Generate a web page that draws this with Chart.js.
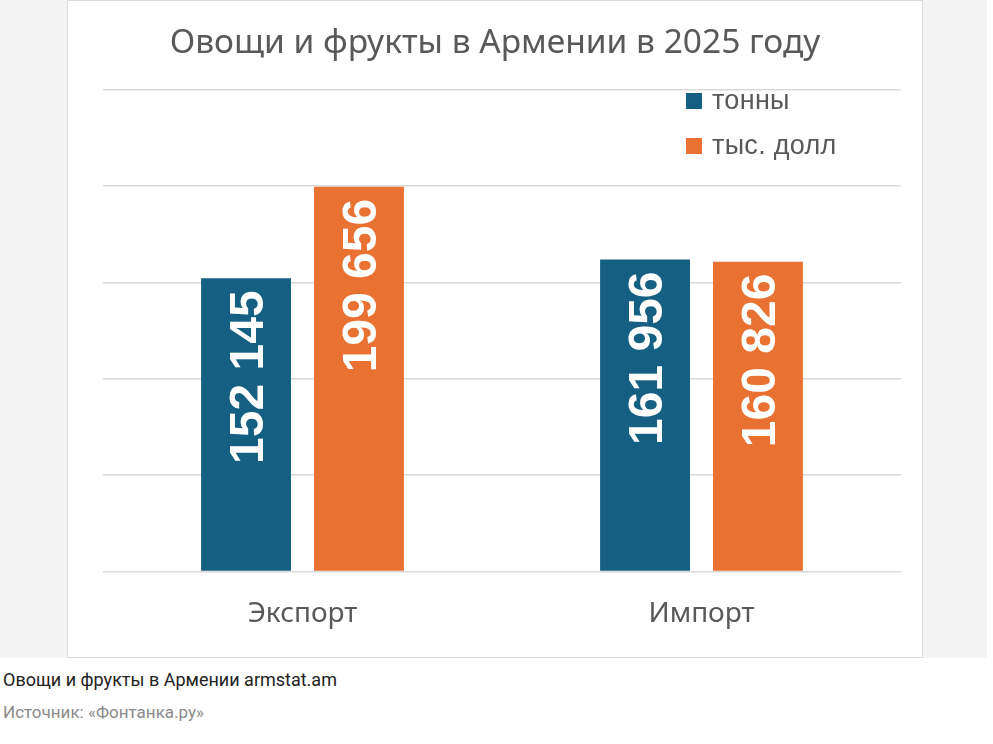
<!DOCTYPE html>
<html lang="ru">
<head>
<meta charset="utf-8">
<title>Овощи и фрукты в Армении в 2025 году</title>
<script src="https://cdn.jsdelivr.net/npm/chart.js@4.4.1/dist/chart.umd.min.js"></script>
<style>
  body { margin: 0; background: #fff; font-family: Roboto, sans-serif; }
  .wrap { position: relative; width: 987px; height: 658px; background: #f4f4f4; }
  .box {
    position: absolute; left: 67px; top: 0; width: 856px; height: 658px;
    box-sizing: border-box; background: #fff; border: 1px solid #dadada;
  }
  .chart-holder { position: absolute; left: 0; top: 0; width: 854px; height: 656px; }
  .legend { position: absolute; left: 618px; top: 77px; font-family: "Liberation Sans", Arial, sans-serif; font-size: 27px; color: #595959; letter-spacing: 0.3px; }
  .legend div { height: 45px; display: flex; align-items: center; }
  .legend span.sw { display: inline-block; width: 16px; height: 16px; margin-right: 10px; }
  .caption { position: absolute; left: 3px; top: 669px; font-size: 18px; color: #222; }
  .source { position: absolute; left: 3px; top: 702px; font-size: 17px; color: #8a8a8a; }
</style>
</head>
<body>
<div class="wrap">
  <div class="box">
    <div class="chart-holder"><canvas id="chart"></canvas></div>
    <div class="legend" id="legend"></div>
  </div>
</div>
<div class="caption">Овощи и фрукты в Армении armstat.am</div>
<div class="source">Источник: «Фонтанка.ру»</div>

<script>
// Data
const categories = ['Экспорт', 'Импорт'];
const tonnes = [152145, 161956];
const thousandUsd = [199656, 160826];
const seriesNames = ['тонны', 'тыс. долл'];
const seriesColors = ['#156082', '#E97132'];

const yMax = 250000;
const yStep = 50000;

function formatNumber(v) {
  return String(v).replace(/\B(?=(\d{3})+(?!\d))/g, ' ');
}

// White rotated labels inside the top of each bar
const barLabels = {
  id: 'barLabels',
  afterDatasetsDraw(chart) {
    const ctx = chart.ctx;
    const fontSize = 48;
    ctx.save();
    ctx.fillStyle = '#ffffff';
    ctx.font = 'bold ' + fontSize + 'px "Liberation Sans", Arial, sans-serif';
    ctx.textAlign = 'right';
    ctx.textBaseline = 'alphabetic';
    chart.data.datasets.forEach((ds, i) => {
      chart.getDatasetMeta(i).data.forEach((bar, j) => {
        ctx.save();
        ctx.translate(bar.x, bar.y + 12);
        ctx.rotate(-Math.PI / 2);
        ctx.fillText(formatNumber(ds.data[j]), 0, fontSize * 0.716 / 2);
        ctx.restore();
      });
    });
    ctx.restore();
  }
};

const chart = new Chart(document.getElementById('chart'), {
  type: 'bar',
  data: {
    labels: categories,
    datasets: [
      { label: seriesNames[0], data: tonnes, backgroundColor: seriesColors[0] },
      { label: seriesNames[1], data: thousandUsd, backgroundColor: seriesColors[1] }
    ]
  },
  options: {
    responsive: true,
    maintainAspectRatio: false,
    animation: false,
    devicePixelRatio: 1,
    categoryPercentage: 0.566,
    barPercentage: 0.796,
    layout: { padding: { left: 0, right: 0, top: 0, bottom: 8 } },
    plugins: {
      legend: { display: false },
      tooltip: { enabled: false },
      title: {
        display: true,
        text: 'Овощи и фрукты в Армении в 2025 году',
        color: '#595959',
        font: { family: '"Noto Sans", sans-serif', size: 33.5, weight: 'normal', lineHeight: 1.2 },
        padding: { top: 21.9, bottom: 26.8 }
      }
    },
    scales: {
      x: {
        grid: { display: false },
        border: { display: false },
        ticks: {
          color: '#595959',
          padding: 18,
          font: { family: '"Noto Sans", sans-serif', size: 28, lineHeight: 1.2 }
        }
      },
      y: {
        min: 0,
        max: yMax,
        ticks: { display: false, stepSize: yStep },
        grid: { color: '#d9d9d9', lineWidth: 1.5, drawTicks: false },
        border: { display: false },
        afterFit(scale) { scale.width = 35; }
      },
      yRight: {
        position: 'right',
        ticks: { display: false },
        grid: { display: false },
        border: { display: false },
        afterFit(scale) { scale.width = 21; }
      }
    }
  },
  plugins: [barLabels]
});

// HTML legend
const legend = document.getElementById('legend');
seriesNames.forEach((name, i) => {
  const row = document.createElement('div');
  row.innerHTML = '<span class="sw" style="background:' + seriesColors[i] + '"></span>' + name;
  legend.appendChild(row);
});
</script>
</body>
</html>
